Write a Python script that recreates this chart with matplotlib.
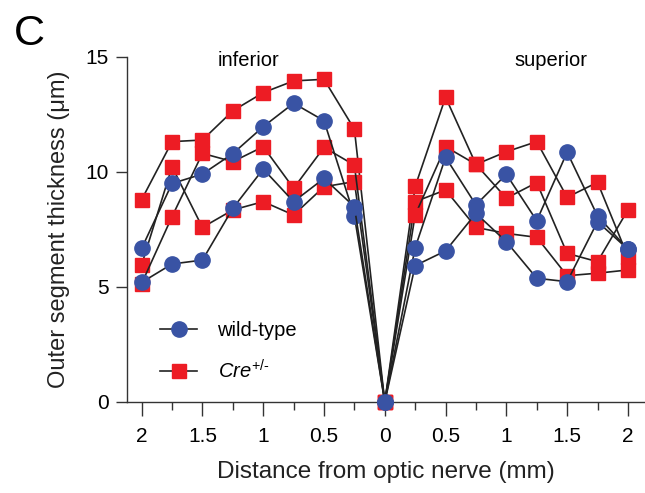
import numpy as np
import matplotlib
matplotlib.use("Agg")
import matplotlib.pyplot as plt
from matplotlib.ticker import MultipleLocator
from matplotlib.lines import Line2D

plt.rcParams['font.family'] = ['Liberation Sans', 'DejaVu Sans']
plt.rcParams['mathtext.fontset'] = 'custom'
plt.rcParams['mathtext.rm'] = 'Liberation Sans'
plt.rcParams['mathtext.it'] = 'Liberation Sans:italic'

# distance from optic nerve (mm), negative = inferior, positive = superior
distance = np.arange(-2, 2.01, 0.25)

wt_1 = [6.68, 9.5, 9.91, 10.8, 11.97, 12.99, 12.23, 8.09, 0,
        6.71, 10.64, 8.57, 9.9, 7.88, 10.86, 8.09, 6.64]
wt_2 = [5.2, 6.0, 6.17, 8.42, 10.13, 8.71, 9.72, 8.49, 0,
        5.93, 6.57, 8.2, 6.97, 5.38, 5.23, 7.84, 6.64]

cre_1 = [8.8, 11.32, 11.39, 12.66, 13.45, 13.96, 14.03, 11.86, 0,
         9.37, 13.25, 10.33, 8.86, 9.54, 6.46, 6.1, 8.35]
cre_2 = [5.96, 10.23, 7.59, 8.35, 8.71, 8.13, 9.36, 9.58, 0,
         8.71, 9.22, 7.59, 7.33, 7.16, 5.49, 5.6, 5.74]
cre_3 = [5.15, 8.06, 10.81, 10.45, 11.1, 9.29, 11.07, 10.3, 0,
         8.13, 11.1, 10.33, 10.88, 11.32, 8.9, 9.55, 6.32]

tick_pos = np.arange(-2, 2.01, 0.5)
tick_labels = ['2', '1.5', '1', '0.5', '0', '0.5', '1', '1.5', '2']

blue = '#3953a4'
red = '#ed1c24'


def main():
    fig = plt.figure(figsize=(6.45, 4.93), dpi=100)
    ax = fig.add_axes([0.197, 0.1846, 0.801, 0.6998])

    for ys in [cre_1, cre_2, cre_3]:
        ax.plot(distance, ys, color='#222222', lw=1.2, zorder=2,
                marker='s', ms=10, mfc=red, mec=red, clip_on=False)
    for ys in [wt_1, wt_2]:
        ax.plot(distance, ys, color='#222222', lw=1.2, zorder=3,
                marker='o', ms=11, mfc=blue, mec=blue, clip_on=False)

    ax.set_xlim(-2.12, 2.13)
    ax.set_ylim(0, 15)
    ax.set_yticks([0, 5, 10, 15])
    ax.set_xticks(tick_pos)
    ax.set_xticklabels(tick_labels)
    ax.xaxis.set_minor_locator(MultipleLocator(0.25))

    for side in ['top', 'right']:
        ax.spines[side].set_visible(False)
    for side in ['left', 'bottom']:
        ax.spines[side].set_color('#333333')
        ax.spines[side].set_linewidth(1.0)

    ax.tick_params(axis='x', which='major', length=10, width=1.0,
                   color='#333333', labelsize=15, pad=8)
    ax.tick_params(axis='x', which='minor', length=5.5, width=1.0,
                   color='#333333')
    ax.tick_params(axis='y', which='major', length=8, width=1.0,
                   color='#333333', labelsize=15, pad=5)

    ax.set_xlabel("Distance from optic nerve (mm)", fontsize=17.5,
                  color='#222222', labelpad=11)
    ax.set_ylabel("Outer segment thickness (\u03bcm)", fontsize=17,
                  color='#222222', labelpad=11)

    ax.text(-1.12, 14.83, "inferior", fontsize=14.5, ha='center', va='center')
    ax.text(1.37, 14.83, "superior", fontsize=14.5, ha='center', va='center')

    handles = [
        Line2D([], [], color='#222222', lw=1.2, marker='o', ms=11,
               mfc=blue, mec=blue),
        Line2D([], [], color='#222222', lw=1.2, marker='s', ms=10,
               mfc=red, mec=red),
    ]
    ax.legend(handles, ['wild-type', r'$\mathit{Cre}^{\text{+/-}}$'],
              loc='center left', bbox_to_anchor=(0.064, 0.146),
              frameon=False, fontsize=14.5, handlelength=1.85,
              handletextpad=1.0, labelspacing=0.95, borderpad=0,
              borderaxespad=0)

    fig.text(0.022, 0.909, "C", fontsize=31, va='baseline')

    plt.savefig("out.png", dpi=100)


if __name__ == "__main__":
    main()
